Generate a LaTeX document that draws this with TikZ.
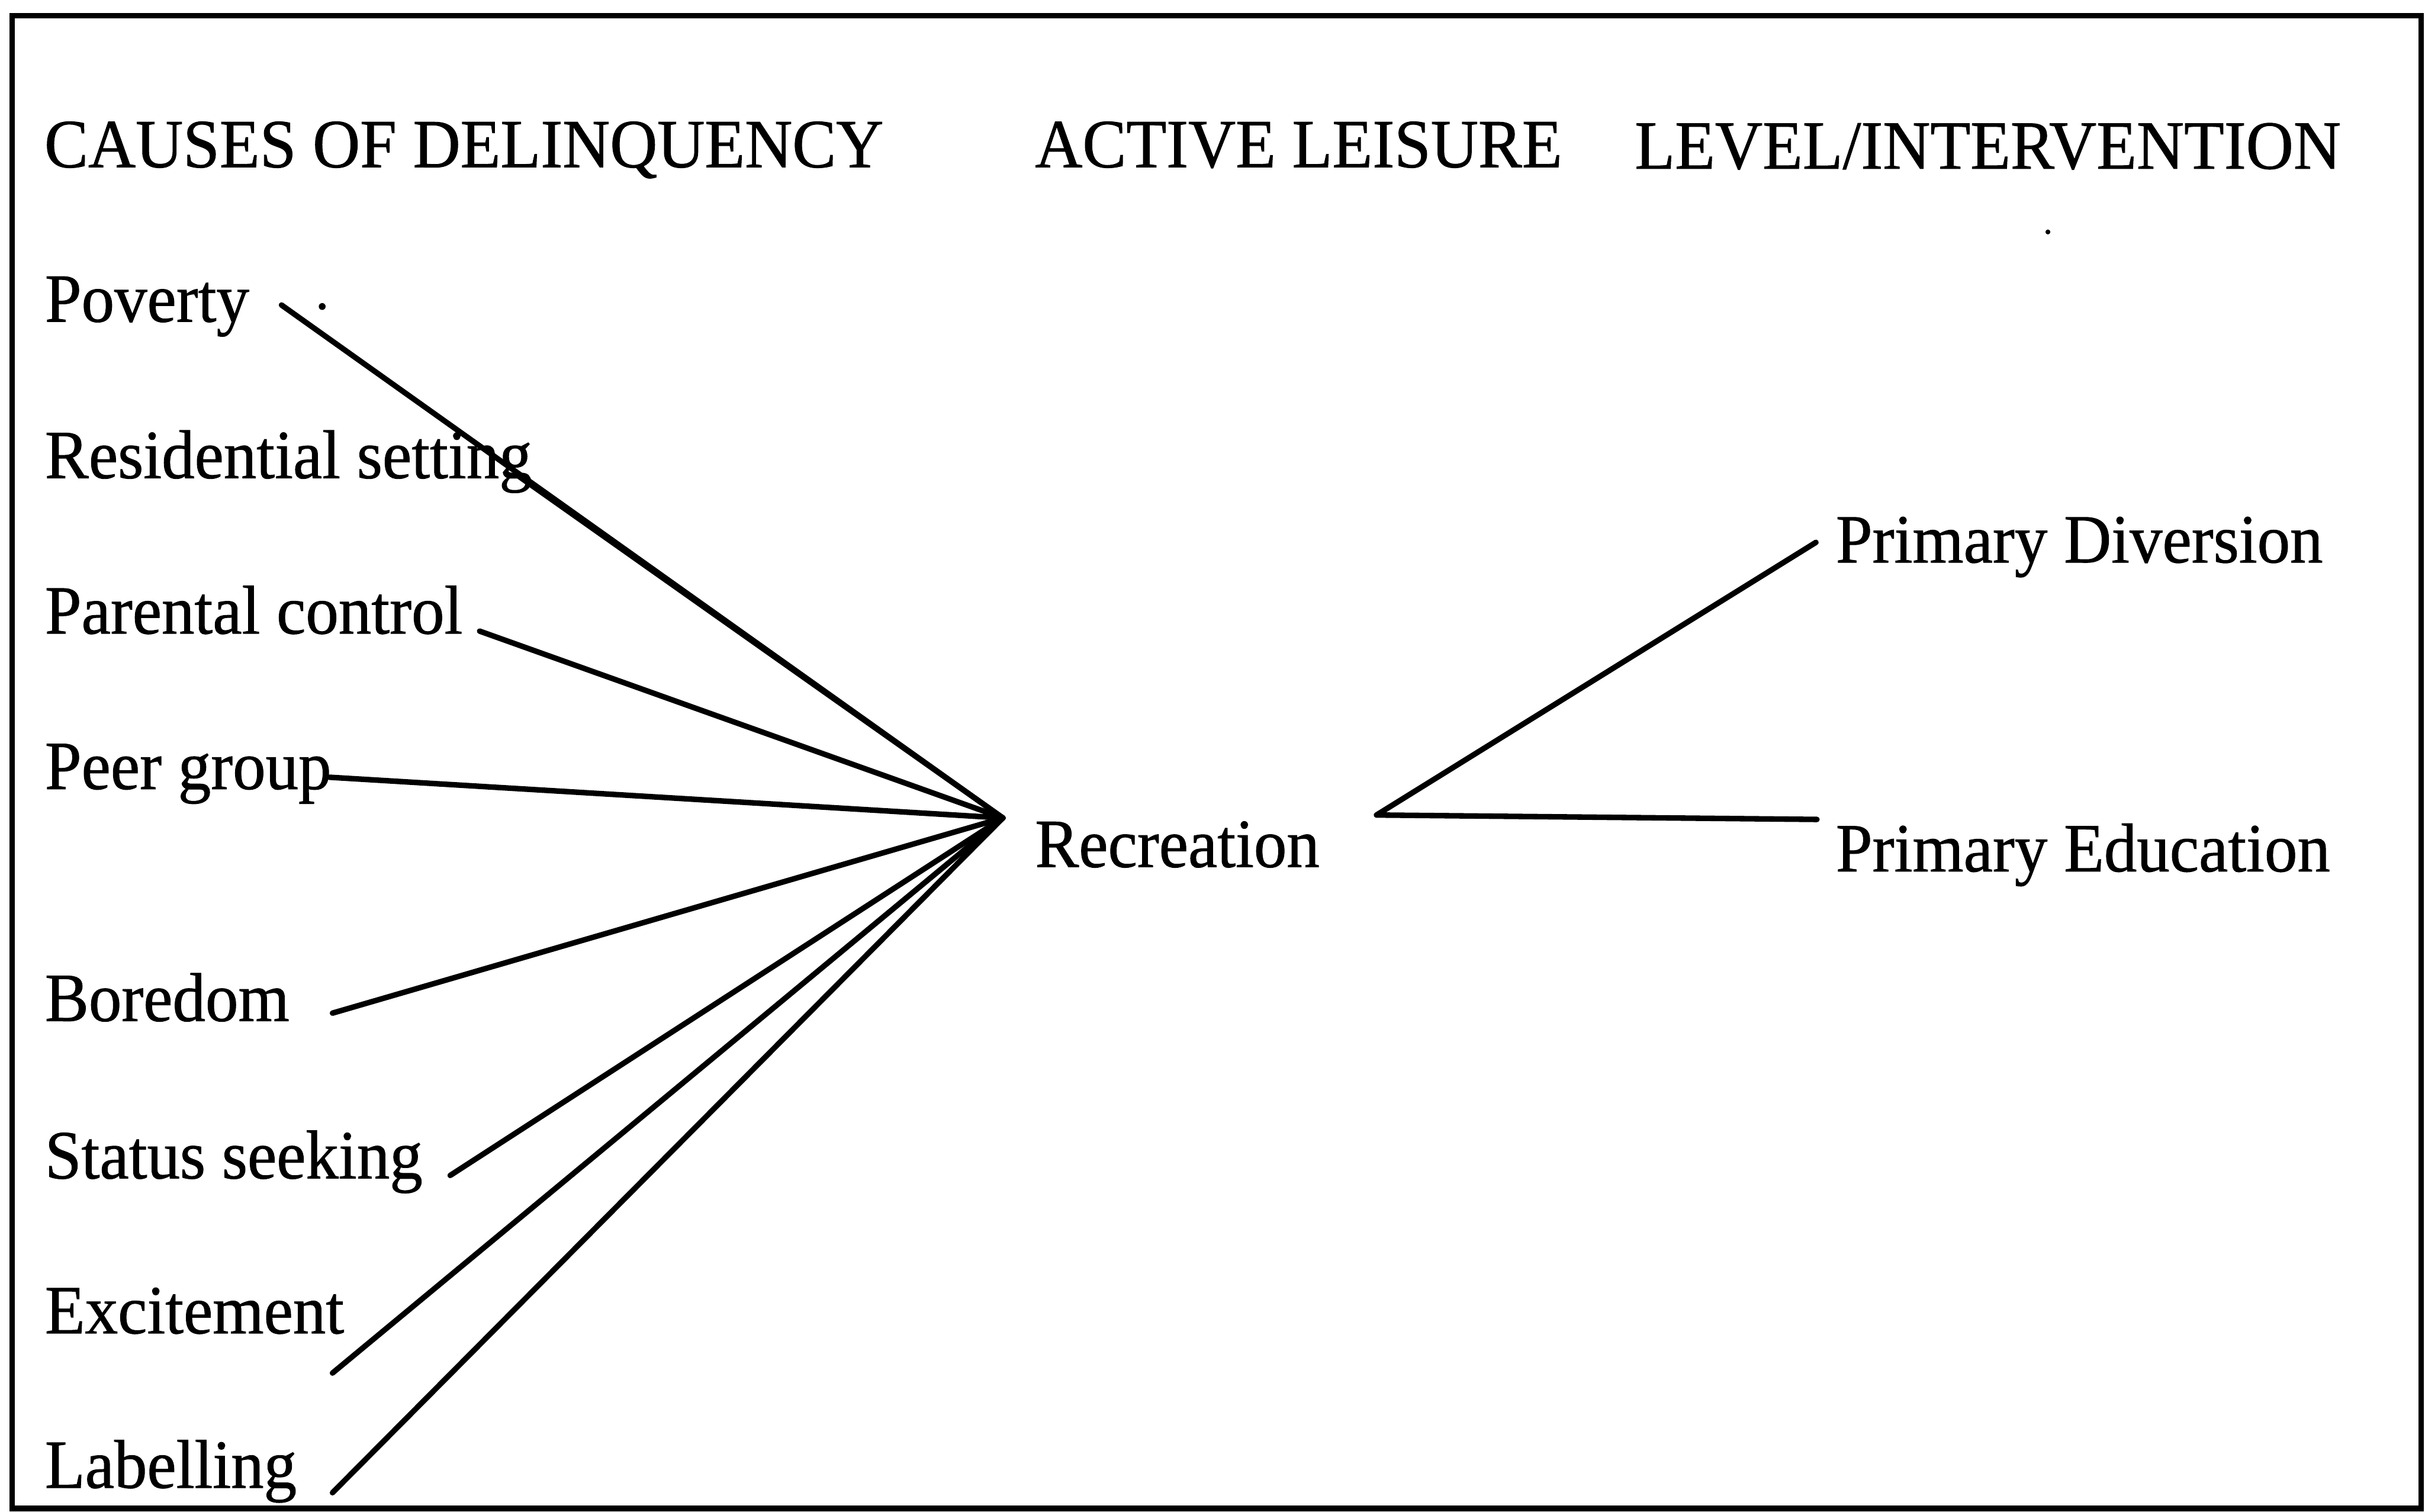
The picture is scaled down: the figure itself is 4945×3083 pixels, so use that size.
\documentclass[tikz,border=0pt]{standalone}
\usepackage{fontspec}
\setmainfont{Liberation Serif}[FakeStretch=0.952, FakeBold=0.8]
\begin{document}
\begin{tikzpicture}[x=0.01cm, y=-0.01cm,
  lbl/.style={anchor=base west, inner sep=0pt, font=\fontsize{40}{44}\selectfont},
  link/.style={line width=3.2pt, line cap=round},
  frame/.style={line width=3.2pt}]
  \useasboundingbox (0,0) rectangle (4945,3083);
  \draw[frame] (25,32) rectangle (4937,3076);

  % column headings
  \node[lbl] (hcauses) at (90,341) {CAUSES OF DELINQUENCY};
  \node[lbl] (hleisure) at (2110,341) {ACTIVE LEISURE};
  \node[lbl] (hlevel) at (3333,344) {LEVEL/INTERVENTION};

  % causes
  \node[lbl] (poverty) at (91,656) {Poverty};
  \node[lbl] (residential) at (91,975) {Residential setting};
  \node[lbl] (parental) at (91,1292) {Parental control};
  \node[lbl] (peer) at (91,1609) {Peer group};
  \node[lbl] (boredom) at (91,2082) {Boredom};
  \node[lbl] (status) at (91,2403) {Status seeking};
  \node[lbl] (excitement) at (91,2719) {Excitement};
  \node[lbl] (labelling) at (91,3034) {Labelling};

  % activity and outcomes
  \node[lbl] (recreation) at (2110,1768) {Recreation};
  \node[lbl] (diversion) at (3743,1147) {Primary Diversion};
  \node[lbl] (education) at (3743,1777) {Primary Education};

  % connector end points
  \coordinate (hub) at (2045,1668);
  \coordinate (recout) at (2807,1662);
  \coordinate (povertyend) at (574,622);
  \coordinate (residentialend) at (1059,972);
  \coordinate (parentalend) at (978,1287);
  \coordinate (peerend) at (672,1585);
  \coordinate (boredomend) at (678,2066);
  \coordinate (statusend) at (918,2397);
  \coordinate (excitementend) at (678,2800);
  \coordinate (labellingend) at (678,3044);
  \coordinate (diversionend) at (3703,1106);
  \coordinate (educationend) at (3705,1671);

  \foreach \c in {povertyend,residentialend,parentalend,peerend,boredomend,statusend,excitementend,labellingend}
    \draw[link] (\c) -- (hub);
  \draw[link] (recout) -- (diversionend);
  \draw[link] (recout) -- (educationend);

  % stray specks
  \fill (657,625) circle (7);
  \fill (4176,473) circle (5);
\end{tikzpicture}
\end{document}
